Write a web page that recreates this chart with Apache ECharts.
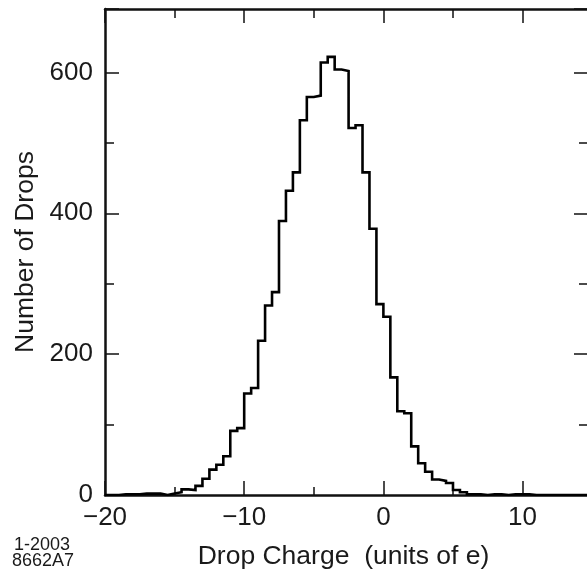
<!DOCTYPE html>
<html>
<head>
<meta charset="utf-8">
<script src="https://cdn.jsdelivr.net/npm/echarts@6/dist/echarts.min.js"></script>
<style>
  html, body { margin: 0; padding: 0; background: #fff; }
  #chart { width: 587px; height: 569px; }
</style>
</head>
<body>
<div id="chart"></div>
<script>
// Histogram of drop charge, bins of 0.5 e starting at -20
const binStart = -20;
const binWidth = 0.5;
const counts = [
  0, 0, 1, 1, 1, 2, 2, 2, 0, 2,          // -20 .. -15.5
  4, 8, 7, 13, 23, 36, 43, 55, 91, 95,   // -15 .. -10.5
  144, 152, 219, 269, 288, 389, 432, 458, 532, 565, // -10 .. -5.5
  567, 614, 622, 604, 602, 521, 525, 458, 378, 271, // -5 .. -0.5
  253, 167, 119, 116, 69, 45, 33, 22, 20, 17,        // 0 .. 4.5
  7, 4, 1, 1, 0, 1, 1, 0, 1, 1,         // 5 .. 9.5
  1, 0, 0, 0, 0, 0, 0, 0, 0, 0           // 10 .. 14.5
];
const xTicks = [-20, -10, 0, 10];
const yTicks = [0, 200, 400, 600];
const xRange = [-20, 14.7];
const yRange = [0, 690];
const xTitle = 'Drop Charge  (units of e)';
const yTitle = 'Number of Drops';
const noteLines = ['1-2003', '8662A7'];

const lastEdge = binStart + counts.length * binWidth;
const stepData = counts.map((c, i) => [binStart + i * binWidth, c]);
stepData.push([lastEdge, counts[counts.length - 1]]);

const FONT = '"Liberation Sans", Arial, Helvetica, sans-serif';
const TXT = '#1a1a1a';
const LINE = '#111';

function fmtX(v) {
  if (xTicks.indexOf(v) < 0) return '';
  return v < 0 ? '\u2212' + Math.abs(v) : String(v);
}
function fmtY(v) {
  return yTicks.indexOf(v) < 0 ? '' : String(v);
}

function xAx(pos, interval, len, opts) {
  return Object.assign({
    type: 'value', position: pos, min: xRange[0], max: xRange[1], interval: interval,
    axisLine: { show: false, onZero: false },
    axisTick: { show: true, inside: true, length: len, lineStyle: { color: LINE, width: 1.5 } },
    axisLabel: { show: false },
    splitLine: { show: false }
  }, opts || {});
}
function yAx(pos, interval, len, opts) {
  return Object.assign({
    type: 'value', position: pos, min: yRange[0], max: yRange[1], interval: interval,
    axisLine: { show: false, onZero: false },
    axisTick: { show: true, inside: true, length: len, lineStyle: { color: LINE, width: 1.5 } },
    axisLabel: { show: false },
    splitLine: { show: false }
  }, opts || {});
}
const frameLine = { show: true, onZero: false, lineStyle: { color: LINE, width: 2.5 } };

const chart = echarts.init(document.getElementById('chart'), null, { renderer: 'canvas' });
chart.setOption({
  animation: false,
  backgroundColor: '#fff',
  grid: { left: 105, top: 9, width: 483, height: 486, containLabel: false, outerBoundsMode: 'none' },
  xAxis: [
    xAx('bottom', 5, 8, {
      axisLine: frameLine,
      axisLabel: { show: true, formatter: fmtX, fontFamily: FONT, fontSize: 26, color: TXT, margin: 10, showMaxLabel: false },
      name: xTitle, nameLocation: 'middle', nameGap: 48,
      nameTextStyle: { fontFamily: FONT, fontSize: 26.5, color: TXT, padding: [0, 6, 0, 0] }
    }),
    xAx('bottom', 10, 14),
    xAx('top', 5, 9, { axisLine: frameLine }),
    xAx('top', 10, 14)
  ],
  yAxis: [
    yAx('left', 100, 9, {
      axisLine: frameLine,
      axisLabel: { show: true, formatter: fmtY, fontFamily: FONT, fontSize: 26, color: TXT, margin: 12, showMaxLabel: false },
      name: yTitle, nameLocation: 'middle', nameGap: 66,
      nameTextStyle: { fontFamily: FONT, fontSize: 26.5, color: TXT }
    }),
    yAx('left', 200, 14),
    yAx('right', 100, 9, { axisLine: frameLine }),
    yAx('right', 200, 14)
  ],
  series: [{
    type: 'line',
    xAxisIndex: 0,
    yAxisIndex: 0,
    step: 'end',
    data: stepData,
    symbol: 'none',
    lineStyle: { color: '#000', width: 2.6, join: 'miter' },
    clip: true,
    z: 5
  }],
  graphic: [
    { type: 'text', left: 14, top: 536, style: { text: noteLines[0], font: '18px ' + FONT, fill: TXT } },
    { type: 'text', left: 12, top: 552, style: { text: noteLines[1], font: '18px ' + FONT, fill: TXT } }
  ]
});
</script>
</body>
</html>
